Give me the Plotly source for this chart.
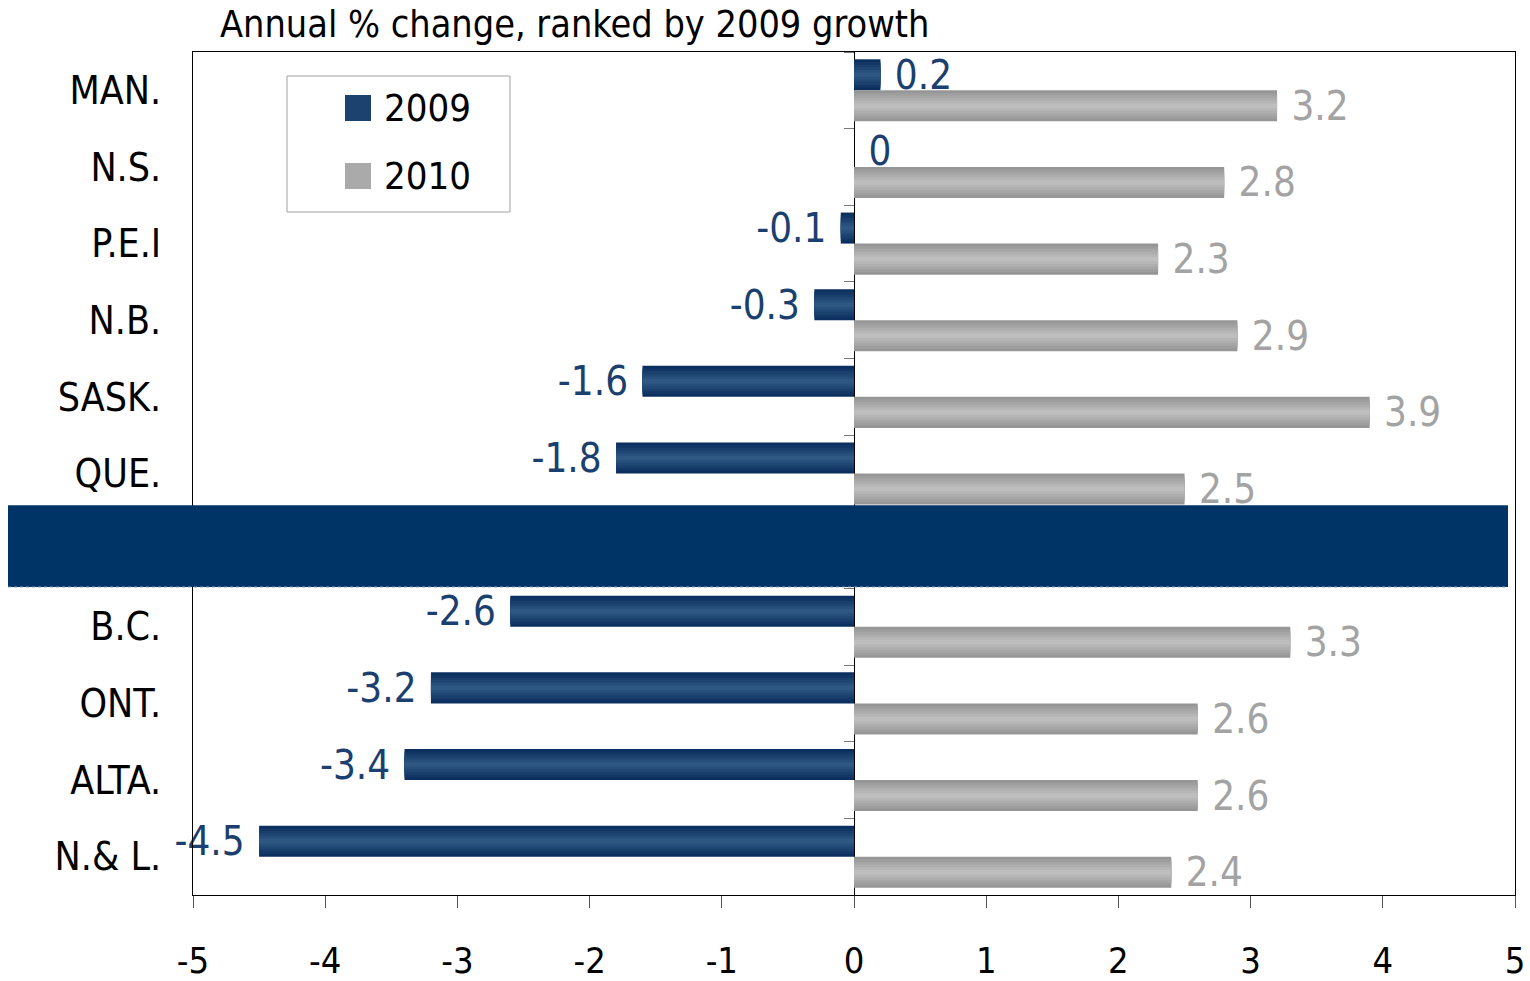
import plotly.graph_objects as go

categories = ["MAN.", "N.S.", "P.E.I", "N.B.", "SASK.", "QUE.", "CANADA", "B.C.", "ONT.", "ALTA.", "N.& L."]
growth_2009 = [0.2, 0, -0.1, -0.3, -1.6, -1.8, -2.5, -2.6, -3.2, -3.4, -4.5]
growth_2010 = [3.2, 2.8, 2.3, 2.9, 3.9, 2.5, 2.6, 3.3, 2.6, 2.6, 2.4]
x_ticks = [-5, -4, -3, -2, -1, 0, 1, 2, 3, 4, 5]
title_text = "Annual % change, ranked by 2009 growth"
hidden_category = "CANADA"

FONT = "DejaVu Sans Condensed, Liberation Sans Narrow, DejaVu Sans, sans-serif"
NARROW = "Liberation Sans Narrow, DejaVu Sans Condensed, sans-serif"

def lerp(c1, c2, t):
    return "rgb(%d,%d,%d)" % tuple(round(a + (b - a) * t) for a, b in zip(c1, c2))

def fmt(v):
    s = "%g" % v
    return (s + " ") if v < 0 else (" " + s)

fig = go.Figure()

bar_w = 0.405
series = [
    ("2009", growth_2009, -bar_w, (11, 47, 95), (46, 87, 130), "#1b3f6e"),
    ("2010", growth_2010, 0.0, (150, 150, 150), (190, 190, 190), "#a3a3a3"),
]
labels = list(categories)
n_layers = 6
for name, vals, off, edge, center, tcol in series:
    for k in range(n_layers):
        t = k / (n_layers - 1)
        w = bar_w * (1 - 0.85 * t)
        o = off + (bar_w - w) / 2
        kw = {}
        if k == 0:
            kw = dict(text=[fmt(v) for v in vals], textposition="outside",
                      textfont=dict(family=FONT, size=40, color=tcol),
                      constraintext="none", textangle=0, cliponaxis=False)
        fig.add_trace(go.Bar(
            y=labels, x=vals, orientation="h", name=name,
            width=w, offset=o,
            marker=dict(color=lerp(edge, center, t), line=dict(width=0)),
            showlegend=False, hoverinfo="x+y", **kw,
        ))

# invisible trace for the secondary axis carrying the zero-line ticks
fig.add_trace(go.Scatter(y=labels, x=[0] * len(labels), yaxis="y2", mode="markers",
                         marker=dict(opacity=0), showlegend=False, hoverinfo="skip"))

n = len(categories)
fig.update_layout(
    width=1530, height=981,
    margin=dict(l=193, r=15, t=52, b=86),
    paper_bgcolor="white", plot_bgcolor="white",
    barmode="overlay",
    showlegend=False,
    xaxis=dict(range=[-5, 5], tickvals=x_ticks, ticktext=[str(v) for v in x_ticks],
               ticks="outside", ticklen=12, tickcolor="#555", tickwidth=1,
               showline=True, linecolor="black", linewidth=1, mirror=True,
               showgrid=False, zeroline=True, zerolinecolor="black", zerolinewidth=1,
               tickfont=dict(family=NARROW, size=36, color="black"),
               ticklabelstandoff=22, automargin=False),
    yaxis=dict(type="category", categoryarray=labels, range=[n - 0.5, -0.5],
               showline=True, linecolor="black", linewidth=1, mirror=True,
               showgrid=False, ticks="", ticklabelstandoff=23, automargin=False,
               tickfont=dict(family=FONT, size=39, color="black")),
    yaxis2=dict(type="category", categoryarray=labels, range=[n - 0.5, -0.5],
                overlaying="y", anchor="free", position=0.5, side="left",
                showticklabels=False, ticks="outside", tickson="boundaries",
                ticklen=10, tickcolor="#777", showline=False, showgrid=False,
                automargin=False),
)

# title
fig.add_annotation(text=title_text, xref="paper", yref="paper",
                   x=(218 - 193) / 1322, y=1.0, xanchor="left", yanchor="bottom", yshift=4,
                   showarrow=False, font=dict(family=FONT, size=37.5, color="black"))

# band hiding one category
idx = labels.index(hidden_category)
fig.add_shape(type="rect", xref="paper", yref="y", x0=(8 - 193) / 1322, x1=(1508 - 193) / 1322,
              y0=idx - 0.587, y1=idx + 0.48, fillcolor="#003366",
              line=dict(width=0), layer="above")
fig.add_shape(type="line", xref="paper", yref="y", x0=(8 - 193) / 1322, x1=(1508 - 193) / 1322,
              y0=idx + 0.48, y1=idx + 0.48, line=dict(color="#6f8fb0", width=1, dash="dot"),
              layer="above")

# manual legend
def px_x(p):
    return (p - 193) / 1322

def px_y(p):
    return 1 - (p - 52) / 843

fig.add_shape(type="rect", xref="paper", yref="paper", x0=px_x(287), x1=px_x(510),
              y0=px_y(212), y1=px_y(76), line=dict(color="#a0a0a0", width=1),
              fillcolor="white", layer="above")
for (name, vals, off, edge, center, tcol), yc in zip(series, [108, 176]):
    fig.add_shape(type="rect", xref="paper", yref="paper", x0=px_x(345), x1=px_x(371),
                  y0=px_y(yc + 13), y1=px_y(yc - 13), fillcolor=lerp(edge, center, 0.5),
                  line=dict(width=0), layer="above")
    fig.add_annotation(text=name, xref="paper", yref="paper", x=px_x(382), y=px_y(yc),
                       xanchor="left", yanchor="middle", showarrow=False,
                       font=dict(family=FONT, size=38, color="black"))

fig.write_html("out.html", post_script="document.body.style.margin='0';",
               config={"displayModeBar": False})
